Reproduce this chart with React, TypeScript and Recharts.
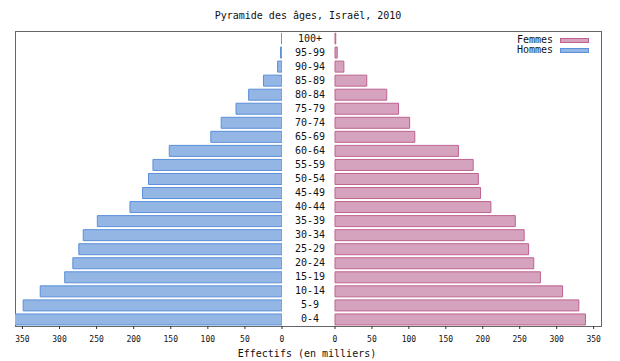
import React from "react";
import { BarChart, Bar, XAxis, YAxis } from "recharts";

// Israël 2010, effectifs en milliers, de 0-4 à 100+
const ageGroups = [
  "0-4", "5-9", "10-14", "15-19", "20-24", "25-29", "30-34", "35-39", "40-44", "45-49",
  "50-54", "55-59", "60-64", "65-69", "70-74", "75-79", "80-84", "85-89", "90-94", "95-99", "100+",
];
const hommes = [362, 349, 326, 293, 282, 274, 268, 249, 205, 188, 180, 174, 152, 96, 82, 62, 45, 25, 6, 2, 0.4];
const femmes = [339, 330, 308, 278, 269, 262, 256, 244, 211, 197, 194, 187, 167, 108, 101, 86, 70, 43, 12, 3, 1];
const axisTicks = [0, 50, 100, 150, 200, 250, 300, 350];

const data = ageGroups.map((age, i) => ({ age, hommes: hommes[i], femmes: femmes[i] }));

const FONT = '"DejaVu Sans Mono", monospace';
const BLUE = "#93b6e5";
const BLUE_LINE = "#5b8fd9";
const PINK = "#d5a3bd";
const PINK_LINE = "#bf6290";

const AgeTick = (props: any) => {
  const { x, y, payload } = props;
  return (
    <text x={x - 25} y={y} dy={3.5} textAnchor="middle" fontSize={10} fontFamily={FONT} fill="#111">
      {payload.value}
    </text>
  );
};

const tickStyle = { fontSize: 8, fontFamily: FONT, fill: "#111" };

const App = () => {
  return (
    <div style={{ position: "absolute", left: 0, top: 0, width: 620, height: 361, background: "#fff", fontFamily: FONT }}>
      <div style={{ position: "absolute", left: 0, top: 11, width: 616, textAlign: "center", fontSize: 10, lineHeight: "10px", color: "#111" }}>
        Pyramide des âges, Israël, 2010
      </div>

      {/* cadre commun */}
      <div style={{ position: "absolute", left: 15, top: 31, width: 587, height: 296, border: "1px solid #666", boxSizing: "border-box" }} />

      {/* Hommes, à gauche */}
      <div style={{ position: "absolute", left: 0, top: 0 }}>
        <BarChart width={300} height={361} data={data} layout="vertical" barCategoryGap={2}
          margin={{ top: 31, left: 15, right: 18, bottom: 5 }}>
          <YAxis type="category" dataKey="age" reversed hide />
          <XAxis type="number" domain={[0, 360]} reversed allowDataOverflow ticks={axisTicks} interval={0}
            height={30} axisLine={false} tickSize={3} tickMargin={7} tick={tickStyle} stroke="#333" />
          <Bar dataKey="hommes" fill={BLUE} stroke={BLUE_LINE} strokeWidth={1} barSize={11} isAnimationActive={false} />
        </BarChart>
      </div>

      {/* Femmes, à droite, avec les tranches d'âge */}
      <div style={{ position: "absolute", left: 282, top: 0 }}>
        <BarChart width={338} height={361} data={data} layout="vertical" barCategoryGap={2}
          margin={{ top: 31, left: 0, right: 19, bottom: 5 }}>
          <YAxis type="category" dataKey="age" reversed width={53} axisLine={false} tickLine={false}
            tickSize={0} tickMargin={0} interval={0} tick={<AgeTick />} />
          <XAxis type="number" domain={[0, 360]} ticks={axisTicks} interval={0}
            height={30} axisLine={false} tickSize={3} tickMargin={7} tick={tickStyle} stroke="#333" />
          <Bar dataKey="femmes" fill={PINK} stroke={PINK_LINE} strokeWidth={1} barSize={11} isAnimationActive={false} />
        </BarChart>
      </div>

      {/* légende */}
      <div style={{ position: "absolute", left: 480, top: 35, width: 73, textAlign: "right", fontSize: 10, lineHeight: "10px", color: "#111" }}>
        <div>Femmes</div>
        <div>Hommes</div>
      </div>
      <div style={{ position: "absolute", left: 560, top: 38, width: 29, height: 5, background: PINK, border: `1px solid ${PINK_LINE}`, boxSizing: "border-box" }} />
      <div style={{ position: "absolute", left: 560, top: 48, width: 29, height: 5, background: BLUE, border: `1px solid ${BLUE_LINE}`, boxSizing: "border-box" }} />

      <div style={{ position: "absolute", left: 0, top: 349, width: 614, textAlign: "center", fontSize: 10, lineHeight: "10px", color: "#111" }}>
        Effectifs (en milliers)
      </div>
    </div>
  );
};

export default App;
